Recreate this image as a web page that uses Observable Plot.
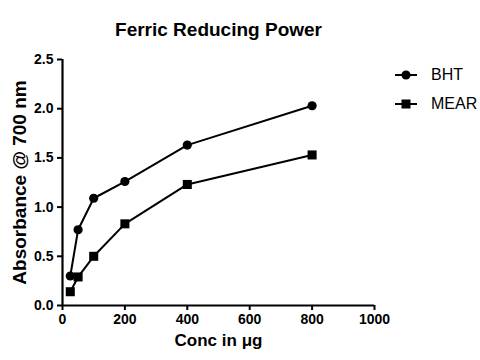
<!DOCTYPE html>
<html>
<head>
<meta charset="utf-8">
<script src="https://cdn.jsdelivr.net/npm/d3@7"></script>
<script src="https://cdn.jsdelivr.net/npm/@observablehq/plot@0.6"></script>
<style>
  body { margin: 0; background: #fff; }
  #wrap { position: relative; width: 480px; height: 360px; font-family: "Liberation Sans", Arial, sans-serif; }
  #legend { position: absolute; left: 392px; top: 60px; font-size: 16px; color: #000; }
  #legend .row { display: flex; align-items: center; height: 29px; }
  #legend svg { margin-right: 11px; }
</style>
</head>
<body>
<div id="wrap">
  <div id="chart"></div>
  <div id="legend"></div>
</div>
<script>
const conc = [25, 50, 100, 200, 400, 800];
const bht = [0.30, 0.77, 1.09, 1.26, 1.63, 2.03];
const mear = [0.14, 0.29, 0.50, 0.83, 1.23, 1.53];
const series = ["BHT", "MEAR"];
const symbols = ["circle", "square"];
const xTicks = [0, 200, 400, 600, 800, 1000];
const yTicks = [0, 0.5, 1.0, 1.5, 2.0, 2.5];

const data = [];
conc.forEach((c, i) => {
  data.push({series: "BHT", x: c, y: bht[i]});
  data.push({series: "MEAR", x: c, y: mear[i]});
});

const font = "'Liberation Sans', Arial, sans-serif";

const plot = Plot.plot({
  width: 480,
  height: 360,
  marginTop: 59,
  marginBottom: 55,
  marginLeft: 62,
  marginRight: 106,
  style: {fontFamily: font, fontSize: "14px", fontWeight: "bold", color: "#000", background: "#fff"},
  x: {domain: [0, 1000], ticks: xTicks},
  y: {domain: [0, 2.5], ticks: yTicks},
  symbol: {domain: series, range: symbols},
  marks: [
    Plot.axisX({ticks: xTicks, tickSize: 5, strokeWidth: 2, tickPadding: 4, label: null, tickFormat: d3.format("d"), fill: "#000"}),
    Plot.axisY({ticks: yTicks, tickSize: 5, strokeWidth: 2, tickPadding: 4, label: null, tickFormat: d3.format(".1f"), fill: "#000"}),
    Plot.ruleY([0], {stroke: "#000", strokeWidth: 2.2}),
    Plot.ruleX([0], {stroke: "#000", strokeWidth: 2.2}),
    Plot.line(data, {x: "x", y: "y", z: "series", stroke: "#000", strokeWidth: 2}),
    Plot.dot(data.filter(d => d.series === "BHT"), {x: "x", y: "y", symbol: () => "BHT", r: 4.6, fill: "#000", stroke: "none"}),
    Plot.dot(data.filter(d => d.series === "MEAR"), {x: "x", y: "y", symbol: () => "MEAR", r: 5.1, fill: "#000", stroke: "none"}),
    Plot.text(["Ferric Reducing Power"], {frameAnchor: "top", dy: -37, fontSize: 19, fontWeight: "bold", fill: "#000"}),
    Plot.text(["Conc in μg"], {frameAnchor: "bottom", dy: 40, fontSize: 17, fontWeight: "bold", fill: "#000"}),
    Plot.text(["Absorbance @ 700 nm"], {frameAnchor: "left", textAnchor: "middle", dx: -43, rotate: -90, fontSize: 19, fontWeight: "bold", fill: "#000"})
  ]
});
document.getElementById("chart").appendChild(plot);

const legend = document.getElementById("legend");
series.forEach((s, i) => {
  const row = document.createElement("div");
  row.className = "row";
  const shape = symbols[i] === "circle"
    ? '<circle cx="14" cy="8" r="4.6" fill="#000"/>'
    : '<rect x="9.5" y="3.5" width="9" height="9" fill="#000"/>';
  row.innerHTML = `<svg width="28" height="16"><line x1="3" y1="8" x2="25" y2="8" stroke="#000" stroke-width="2"/>${shape}</svg><span>${s}</span>`;
  legend.appendChild(row);
});
</script>
</body>
</html>
